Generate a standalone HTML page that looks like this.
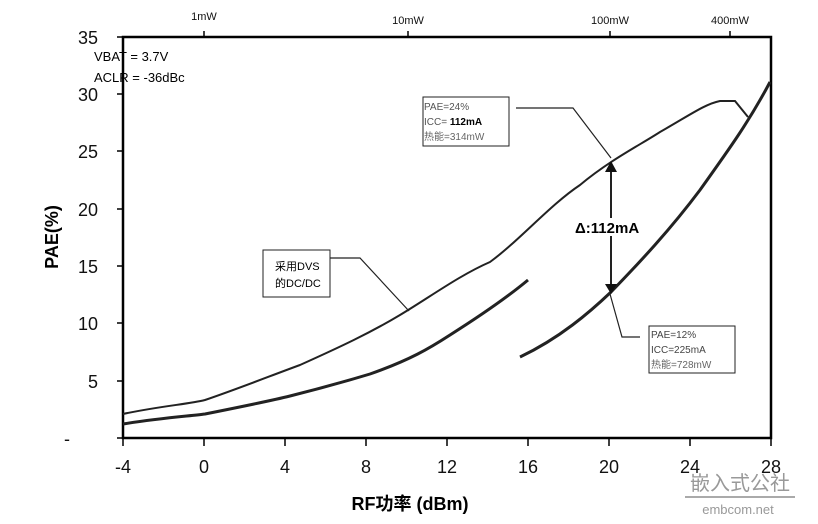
<!DOCTYPE html>
<html><head><meta charset="utf-8"><style>
body{margin:0;background:#fff;}
svg{display:block;font-family:"Liberation Sans","Noto Sans CJK SC",sans-serif;}
</style></head><body>
<svg width="818" height="524" viewBox="0 0 818 524" xmlns="http://www.w3.org/2000/svg">
<rect width="818" height="524" fill="#fff"/>
<rect x="123" y="37" width="648" height="401" fill="none" stroke="#000" stroke-width="2.5"/>
<g stroke="#000" stroke-width="1.5">
<line x1="117" y1="37" x2="123" y2="37"/><line x1="117" y1="94" x2="123" y2="94"/><line x1="117" y1="151" x2="123" y2="151"/><line x1="117" y1="209" x2="123" y2="209"/><line x1="117" y1="266" x2="123" y2="266"/><line x1="117" y1="323" x2="123" y2="323"/><line x1="117" y1="381" x2="123" y2="381"/><line x1="117" y1="438" x2="123" y2="438"/>
<line x1="123" y1="438" x2="123" y2="446"/><line x1="204" y1="438" x2="204" y2="446"/><line x1="285" y1="438" x2="285" y2="446"/><line x1="366" y1="438" x2="366" y2="446"/><line x1="447" y1="438" x2="447" y2="446"/><line x1="528" y1="438" x2="528" y2="446"/><line x1="609" y1="438" x2="609" y2="446"/><line x1="690" y1="438" x2="690" y2="446"/><line x1="771" y1="438" x2="771" y2="446"/>
<line x1="204" y1="31" x2="204" y2="37"/><line x1="408" y1="31" x2="408" y2="37"/><line x1="610" y1="31" x2="610" y2="37"/><line x1="730" y1="31" x2="730" y2="37"/>
</g>
<g font-size="18" text-anchor="end" fill="#111">
<text x="98" y="44">35</text><text x="98" y="101">30</text><text x="98" y="158">25</text><text x="98" y="216">20</text><text x="98" y="273">15</text><text x="98" y="330">10</text><text x="98" y="388">5</text><text x="70" y="445">-</text>
</g>
<g font-size="18" text-anchor="middle" fill="#111">
<text x="123" y="473">-4</text><text x="204" y="473">0</text><text x="285" y="473">4</text><text x="366" y="473">8</text><text x="447" y="473">12</text><text x="528" y="473">16</text><text x="609" y="473">20</text><text x="690" y="473">24</text><text x="771" y="473">28</text>
</g>
<g font-size="11" text-anchor="middle" fill="#111">
<text x="204" y="20">1mW</text><text x="408" y="24">10mW</text><text x="610" y="24">100mW</text><text x="730" y="24">400mW</text>
</g>
<text x="58" y="237" font-size="18" font-weight="bold" text-anchor="middle" transform="rotate(-90 58 237)">PAE(%)</text>
<text x="410" y="510" font-size="18" font-weight="bold" text-anchor="middle">RF功率 (dBm)</text>
<text x="94" y="61" font-size="13">VBAT =  3.7V</text>
<text x="94" y="82" font-size="13">ACLR = -36dBc</text>
<g fill="none" stroke="#222">
<path d="M123,414 C160,406 190,404 205,400 C240,388 270,376 300,365 C340,347 370,333 400,315 C430,297 460,275 490,262 C520,240 550,205 580,185 C610,160 640,145 660,132 C690,115 705,104 720,101 L735,101 L748,117" stroke-width="2"/>
<path d="M123,424 C160,418 190,416 205,414 C250,405 270,401 290,396 C330,386 350,380 370,374 C410,360 430,348 450,335 C480,316 510,295 528,280" stroke-width="3"/>
<path d="M520,357 C560,338 590,312 611,292 C640,262 670,230 700,190 C730,148 750,120 770,82" stroke-width="3"/>
<path d="M516,108 L573,108 L611,158" stroke-width="1.2"/>
<path d="M640,337 L622,337 L610,294" stroke-width="1.2"/>
<path d="M330,258 L360,258 L409,311" stroke-width="1.2"/>
<line x1="611" y1="168" x2="611" y2="287" stroke-width="2"/>
</g>
<path d="M605,172 L611,161 L617,172 Z M605,284 L611,294 L617,284 Z" fill="#111"/>
<rect x="590" y="218" width="50" height="18" fill="#fff"/>
<text x="575" y="233" font-size="15" font-weight="bold">Δ:112mA</text>
<rect x="423" y="97" width="86" height="49" fill="#fff" stroke="#222"/>
<text x="424" y="110" font-size="10" fill="#555">PAE=24%</text>
<text x="424" y="125" font-size="10" fill="#555">ICC= <tspan font-weight="bold" fill="#000">112mA</tspan></text>
<text x="424" y="140" font-size="10" fill="#666">热能=314mW</text>
<rect x="649" y="326" width="86" height="47" fill="#fff" stroke="#222"/>
<text x="651" y="338" font-size="10" fill="#444">PAE=12%</text>
<text x="651" y="353" font-size="10" fill="#444">ICC=225mA</text>
<text x="651" y="368" font-size="10" fill="#666">热能=728mW</text>
<rect x="263" y="250" width="67" height="47" fill="#fff" stroke="#222"/>
<text x="275" y="270" font-size="11">采用DVS</text>
<text x="275" y="287" font-size="11">的DC/DC</text>
<text x="740" y="490" font-size="20" fill="#999" text-anchor="middle">嵌入式公社</text>
<line x1="685" y1="497" x2="795" y2="497" stroke="#aaa" stroke-width="2"/>
<text x="738" y="514" font-size="13" fill="#999" text-anchor="middle">embcom.net</text>
</svg>
</body></html>
